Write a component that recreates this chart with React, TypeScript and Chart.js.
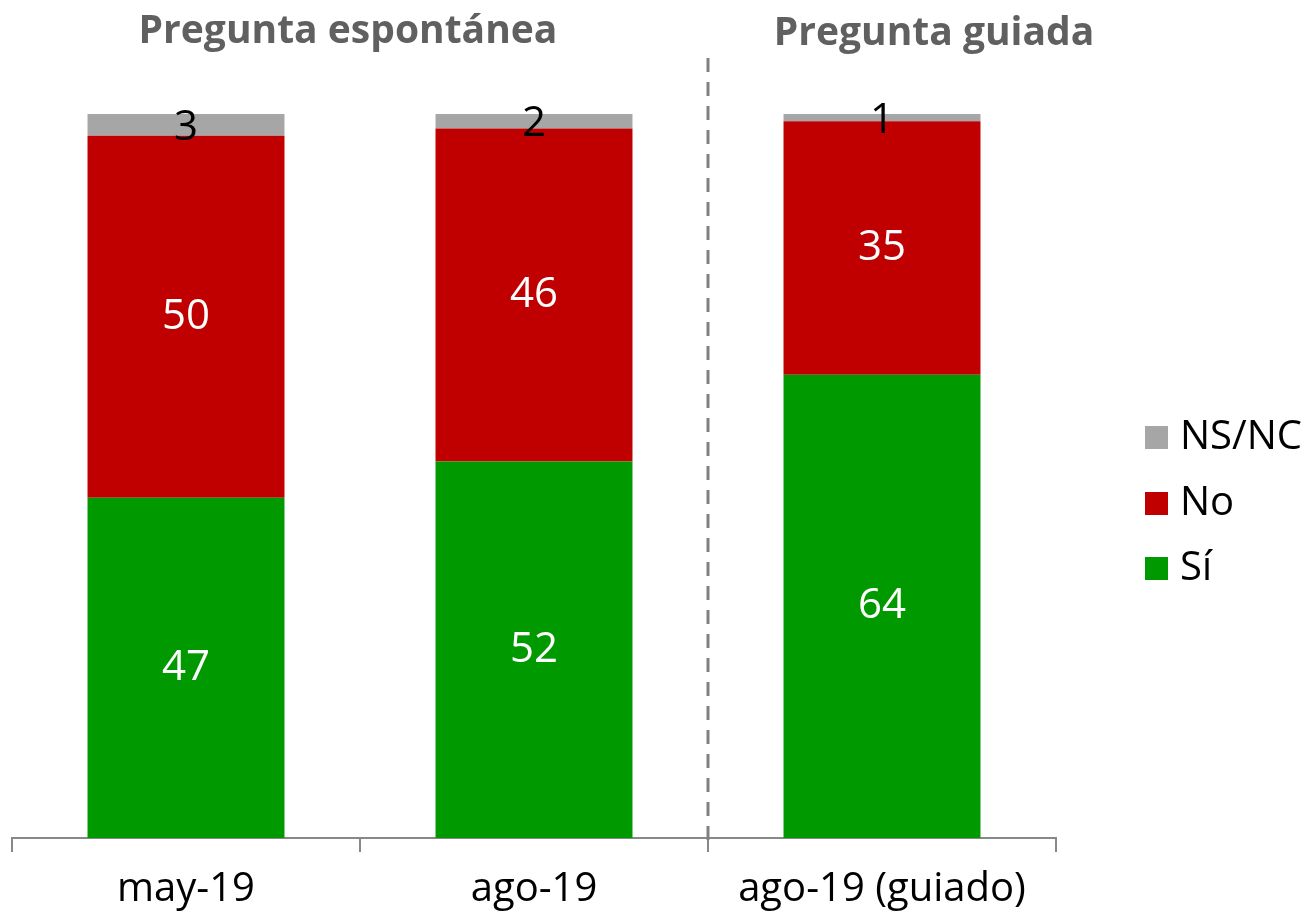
import React, { useEffect, useRef } from "react";
import { Chart, registerables } from "chart.js";

Chart.register(...registerables);

const categories = ["may-19", "ago-19", "ago-19 (guiado)"];
const siValues = [47, 52, 64];
const noValues = [50, 46, 35];
const nsncValues = [3, 2, 1];
const seriesLabels = ["Sí", "No", "NS/NC"];
const seriesColors = ["#009900", "#C00000", "#A6A6A6"];
const labelColors = ["#FFFFFF", "#FFFFFF", "#000000"];
const groupTitles = ["Pregunta espontánea", "Pregunta guiada"];

const FONT = "'Open Sans', 'DejaVu Sans', sans-serif";

const decorPlugin = {
  id: "decor",
  afterDatasetsDraw(chart: any) {
    const ctx = chart.ctx;
    const x = chart.scales.x;
    const area = chart.chartArea;
    // data labels
    chart.data.datasets.forEach((ds: any, di: number) => {
      const meta = chart.getDatasetMeta(di);
      meta.data.forEach((bar: any, i: number) => {
        const v = ds.data[i];
        const yc = (bar.y + bar.base) / 2;
        ctx.save();
        ctx.fillStyle = labelColors[di];
        ctx.font = `42px ${FONT}`;
        ctx.textAlign = "center";
        ctx.textBaseline = "middle";
        ctx.fillText(String(v), bar.x, yc + (di === 2 ? 3 : 0));
        ctx.restore();
      });
    });
    // dashed separator
    const sepX = (x.getPixelForValue(1) + x.getPixelForValue(2)) / 2;
    ctx.save();
    ctx.strokeStyle = "#808080";
    ctx.lineWidth = 3;
    ctx.setLineDash([14, 10]);
    ctx.beginPath();
    ctx.moveTo(sepX, area.top - 56);
    ctx.lineTo(sepX, area.bottom + 12);
    ctx.stroke();
    ctx.restore();
    // titles
    ctx.save();
    ctx.fillStyle = "#606060";
    ctx.font = `bold 39px ${FONT}`;
    ctx.textAlign = "center";
    ctx.textBaseline = "alphabetic";
    ctx.fillText(groupTitles[0], 348, 43);
    ctx.fillText(groupTitles[1], 934, 45);
    ctx.restore();
    // legend
    const order = [2, 1, 0];
    const ys = [437, 503, 568];
    ctx.save();
    ctx.font = `40px ${FONT}`;
    ctx.textBaseline = "middle";
    ctx.textAlign = "left";
    order.forEach((di, k) => {
      ctx.fillStyle = chart.data.datasets[di].backgroundColor;
      ctx.fillRect(1145, ys[k] - 11, 23, 23);
      ctx.fillStyle = "#000000";
      ctx.fillText(chart.data.datasets[di].label, 1180, ys[k] + 1);
    });
    ctx.restore();
  },
};

export default function App() {
  const ref = useRef<HTMLCanvasElement>(null);
  useEffect(() => {
    const chart = new Chart(ref.current!, {
      type: "bar",
      data: {
        labels: categories,
        datasets: [
          { label: seriesLabels[0], data: siValues, backgroundColor: seriesColors[0] },
          { label: seriesLabels[1], data: noValues, backgroundColor: seriesColors[1] },
          { label: seriesLabels[2], data: nsncValues, backgroundColor: seriesColors[2] },
        ],
      },
      options: {
        animation: false,
        responsive: false,
        layout: { padding: { left: 12, right: 249, top: 114, bottom: 0 } },
        datasets: { bar: { categoryPercentage: 1, barPercentage: 0.566 } },
        plugins: { legend: { display: false }, tooltip: { enabled: false } },
        scales: {
          x: {
            stacked: true,
            afterFit: (s: any) => {
              s.height = 76;
            },
            border: { display: true, color: "#888888", width: 2 },
            grid: { drawOnChartArea: false, drawTicks: true, tickLength: 14, color: "#888888", lineWidth: 2 },
            ticks: { color: "#000000", font: { size: 40, family: FONT }, padding: 14 },
          },
          y: { stacked: true, min: 0, max: 100, display: false },
        },
      },
      plugins: [decorPlugin],
    });
    return () => chart.destroy();
  }, []);
  return (
    <div style={{ position: "absolute", left: 0, top: 0, width: 1305, height: 914, background: "#fff" }}>
      <canvas ref={ref} width={1305} height={914} style={{ display: "block" }} />
    </div>
  );
}
